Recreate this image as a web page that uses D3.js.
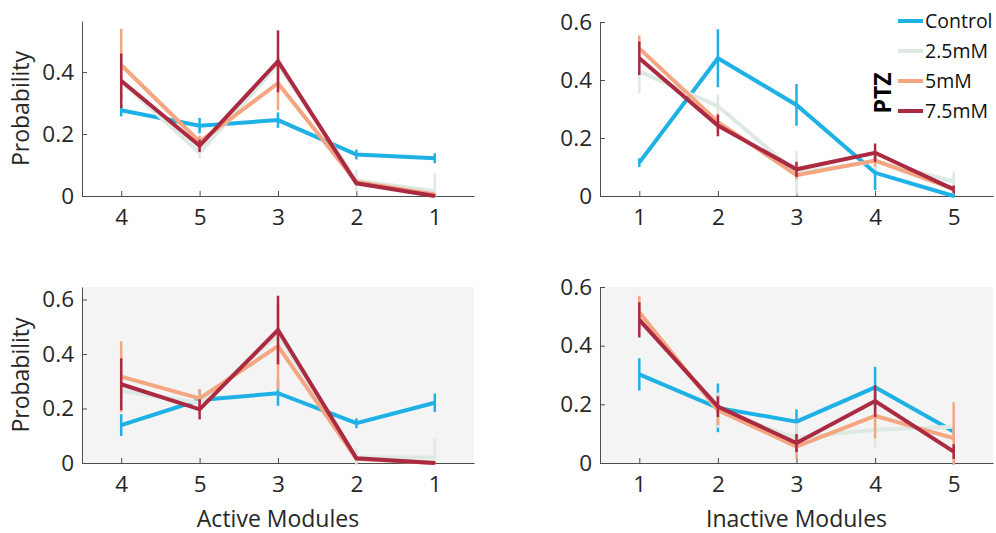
<!DOCTYPE html>
<html>
<head>
<meta charset="utf-8">
<script src="https://cdn.jsdelivr.net/npm/d3@7"></script>
<style>
  body { margin: 0; background: #fff; }
  svg { display: block; font-family: "Open Sans", sans-serif; }
</style>
</head>
<body>
<svg id="chart" width="996" height="533"></svg>
<script>
// series and category labels
const seriesNames = ["Control", "2.5mM", "5mM", "7.5mM"];
const seriesColors = ["#1eb1e5", "#dde9e2", "#f4a680", "#ab2a42"];
const activeLabels = ["4", "5", "3", "2", "1"];
const inactiveLabels = ["1", "2", "3", "4", "5"];

// top row, active modules (rows: Control, 2.5mM, 5mM, 7.5mM)
const topActiveMean = [
    [0.277, 0.227, 0.245, 0.134, 0.122],
    [0.37, 0.14, 0.425, 0.05, 0.015],
    [0.423, 0.175, 0.364, 0.045, 0.005],
    [0.372, 0.162, 0.435, 0.041, 0.0]
];
const topActiveErr = [
    [0.02, 0.025, 0.025, 0.016, 0.016],
    [0.06, 0.02, 0.05, 0.035, 0.06],
    [0.117, 0.02, 0.087, 0.01, 0.005],
    [0.088, 0.02, 0.1, 0.005, 0.002]
];

// top row, inactive modules
const topInactiveMean = [
    [0.115, 0.475, 0.314, 0.08, 0.0],
    [0.43, 0.31, 0.08, 0.12, 0.05],
    [0.509, 0.255, 0.072, 0.122, 0.025],
    [0.475, 0.243, 0.092, 0.149, 0.023]
];
const topInactiveErr = [
    [0.015, 0.1, 0.072, 0.06, 0.005],
    [0.075, 0.04, 0.075, 0.03, 0.035],
    [0.045, 0.03, 0.015, 0.02, 0.01],
    [0.058, 0.037, 0.026, 0.032, 0.013]
];

// bottom row, active modules
const bottomActiveMean = [
    [0.139, 0.231, 0.256, 0.146, 0.221],
    [0.265, 0.22, 0.47, 0.02, 0.02],
    [0.317, 0.237, 0.429, 0.015, 0.0],
    [0.289, 0.197, 0.488, 0.017, 0.0]
];
const bottomActiveErr = [
    [0.04, 0.037, 0.046, 0.018, 0.034],
    [0.02, 0.03, 0.05, 0.035, 0.07],
    [0.13, 0.035, 0.16, 0.005, 0.005],
    [0.095, 0.037, 0.126, 0.005, 0.003]
];

// bottom row, inactive modules
const bottomInactiveMean = [
    [0.302, 0.188, 0.141, 0.258, 0.107],
    [0.5, 0.18, 0.085, 0.113, 0.124],
    [0.514, 0.18, 0.056, 0.161, 0.085],
    [0.488, 0.192, 0.068, 0.211, 0.039]
];
const bottomInactiveErr = [
    [0.055, 0.083, 0.042, 0.07, 0.01],
    [0.03, 0.06, 0.05, 0.06, 0.02],
    [0.056, 0.05, 0.04, 0.077, 0.122],
    [0.06, 0.035, 0.031, 0.054, 0.025]
];

const yTicksTop = [0, 0.2, 0.4];
const yTicks = [0, 0.2, 0.4, 0.6];

const svg = d3.select("#chart");

// panel layout
const panels = [
    { mean: topActiveMean, err: topActiveErr, labels: activeLabels, ticks: yTicksTop,
      left: 82, right: 474, top: 21, bottom: 196, ymax: 0.565, bg: null, ylabel: "Probability", xlabel: null },
    { mean: topInactiveMean, err: topInactiveErr, labels: inactiveLabels, ticks: yTicks,
      left: 600, right: 993, top: 22, bottom: 196, ymax: 0.6, bg: null, ylabel: null, xlabel: null },
    { mean: bottomActiveMean, err: bottomActiveErr, labels: activeLabels, ticks: yTicks,
      left: 82, right: 474, top: 287, bottom: 463, ymax: 0.646, bg: "#f4f4f4", ylabel: "Probability", xlabel: "Active Modules" },
    { mean: bottomInactiveMean, err: bottomInactiveErr, labels: inactiveLabels, ticks: yTicks,
      left: 600, right: 993, top: 287, bottom: 463, ymax: 0.6, bg: "#f4f4f4", ylabel: null, xlabel: "Inactive Modules" }
];

panels.forEach(function (p, pi) {
    const x = d3.scaleLinear().domain([0.5, 5.5]).range([p.left, p.right]);
    const y = d3.scaleLinear().domain([0, p.ymax]).range([p.bottom, p.top]);

    // clip to axes box
    svg.append("clipPath")
        .attr("id", "clip" + pi)
        .append("rect")
        .attr("x", p.left)
        .attr("y", p.top)
        .attr("width", p.right - p.left)
        .attr("height", p.bottom - p.top + 2);

    if (p.bg) {
        svg.append("rect")
            .attr("x", p.left)
            .attr("y", p.top)
            .attr("width", p.right - p.left)
            .attr("height", p.bottom - p.top)
            .attr("fill", p.bg);
    }

    // x axis
    const gx = svg.append("g")
        .attr("transform", "translate(0," + p.bottom + ")")
        .call(d3.axisBottom(x)
            .tickValues([1, 2, 3, 4, 5])
            .tickFormat(function (d) { return p.labels[d - 1]; })
            .tickSizeInner(-5)
            .tickSizeOuter(0)
            .tickPadding(13));

    // y axis
    const gy = svg.append("g")
        .attr("transform", "translate(" + p.left + ",0)")
        .call(d3.axisLeft(y)
            .tickValues(p.ticks)
            .tickFormat(function (d) { return d === 0 ? "0" : d3.format(".1f")(d); })
            .tickSizeInner(-5)
            .tickSizeOuter(0)
            .tickPadding(8));

    [gx, gy].forEach(function (g) {
        g.select(".domain").attr("stroke", "#4d4d4d");
        g.selectAll(".tick line").attr("stroke", "#4d4d4d");
        g.selectAll(".tick text")
            .attr("fill", "#262626")
            .style("font-size", "22.5px")
            .style("font-family", "Open Sans");
    });

    const plot = svg.append("g").attr("clip-path", "url(#clip" + pi + ")");

    const line = d3.line()
        .x(function (d, i) { return x(i + 1); })
        .y(function (d) { return y(d); });

    p.mean.forEach(function (vals, s) {
        const color = seriesColors[s];

        // error bars
        plot.append("g")
            .selectAll("line")
            .data(vals)
            .enter()
            .append("line")
            .attr("x1", function (d, i) { return x(i + 1); })
            .attr("x2", function (d, i) { return x(i + 1); })
            .attr("y1", function (d, i) { return y(d - p.err[s][i]); })
            .attr("y2", function (d, i) { return y(d + p.err[s][i]); })
            .attr("stroke", color)
            .attr("stroke-width", 2.5);

        plot.append("path")
            .datum(vals)
            .attr("d", line)
            .attr("fill", "none")
            .attr("stroke", color)
            .attr("stroke-width", 4)
            .attr("stroke-linejoin", "miter");
    });

    if (p.ylabel) {
        svg.append("text")
            .attr("transform", "translate(29," + (p.top + p.bottom) / 2 + ")rotate(-90)")
            .attr("text-anchor", "middle")
            .attr("fill", "#262626")
            .style("font-size", "23px")
            .text(p.ylabel);
    }
    if (p.xlabel) {
        svg.append("text")
            .attr("x", (p.left + p.right) / 2)
            .attr("y", 527)
            .attr("text-anchor", "middle")
            .attr("fill", "#262626")
            .style("font-size", "23px")
            .text(p.xlabel);
    }
});

// legend
const legend = svg.append("g").attr("transform", "translate(898,21)");
seriesNames.forEach(function (name, i) {
    const row = legend.append("g").attr("transform", "translate(0," + i * 30 + ")");
    row.append("line")
        .attr("x1", 0)
        .attr("x2", 25)
        .attr("stroke", seriesColors[i])
        .attr("stroke-width", 4);
    row.append("text")
        .attr("x", 27)
        .attr("y", 7)
        .attr("fill", "#111")
        .style("font-size", "19.5px")
        .text(name);
});
svg.append("text")
    .attr("transform", "translate(891,93)rotate(-90)")
    .attr("text-anchor", "middle")
    .attr("fill", "#000")
    .style("font-size", "23px")
    .style("font-weight", "bold")
    .text("PTZ");
</script>
</body>
</html>
